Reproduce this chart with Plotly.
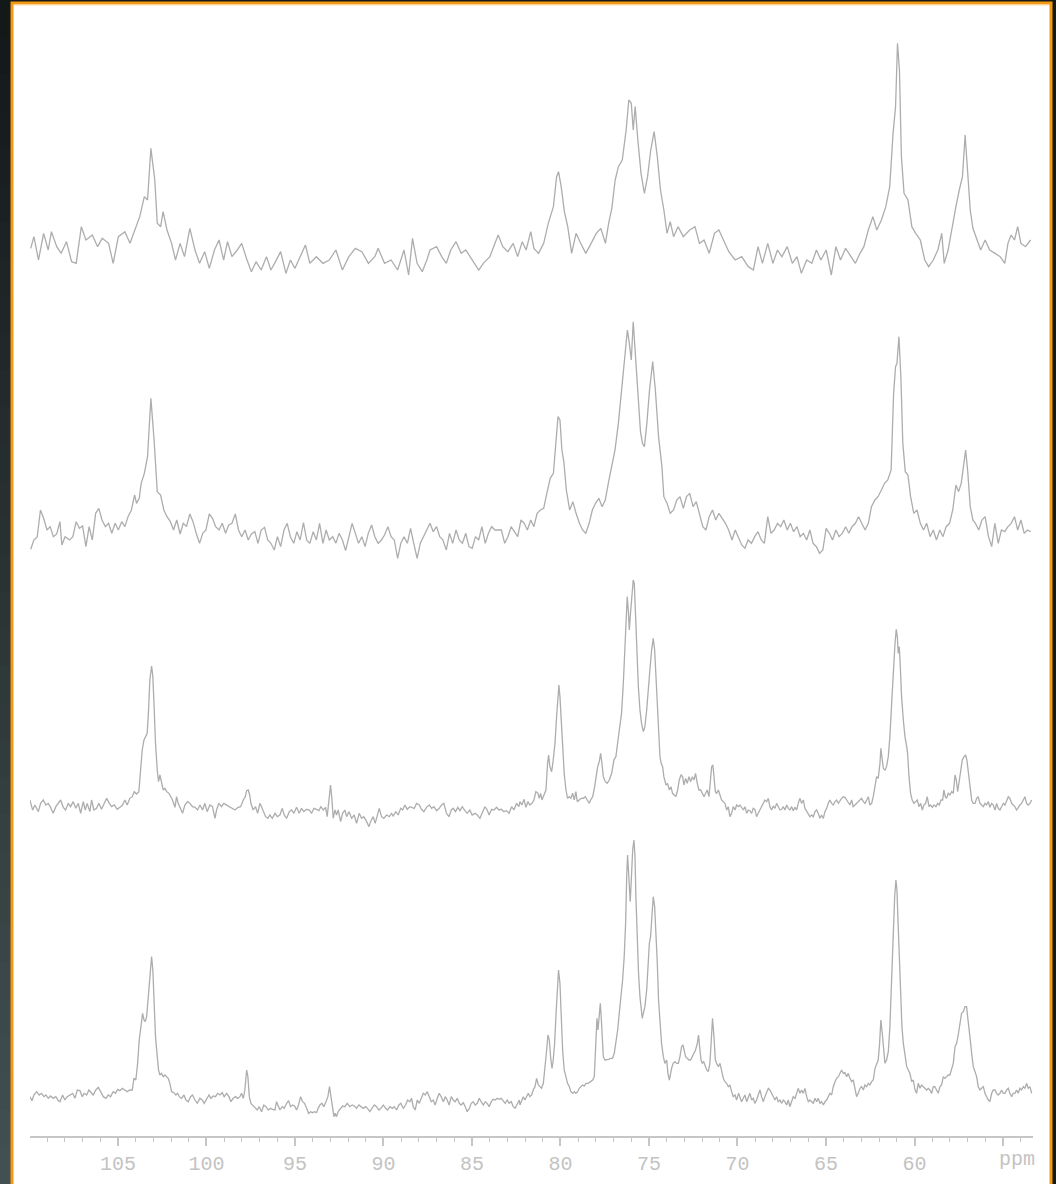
import plotly.graph_objects as go

# ---------------- data: (chemical shift in ppm, intensity in a.u.) ----------------
SPEC_A = [(109.93,95),(109.75,130),(109.49,60),(109.20,140),(108.94,90),(108.76,145),(108.46,100),(108.21,80),(107.91,115),(107.62,55),(107.36,50),(107.07,160),(106.81,120),(106.45,135),(106.15,100),(105.89,125),(105.53,110),(105.27,50),(104.98,130),(104.61,145),(104.32,110),(104.06,150),(103.77,190),(103.51,250),(103.33,240),(103.14,395),(102.92,300),(102.78,170),(102.59,160),(102.45,205),(102.23,150),(101.97,110),(101.75,60),(101.49,110),(101.24,70),(100.94,155),(100.65,90),(100.39,50),(100.10,85),(99.84,35),(99.55,90),(99.29,120),(99.03,60),(98.81,115),(98.56,70),(98.26,90),(98.01,110),(97.71,60),(97.46,25),(97.20,55),(96.91,30),(96.61,70),(96.36,30),(96.10,55),(95.81,85),(95.51,20),(95.26,60),(95.00,35),(94.71,70),(94.41,105),(94.16,50),(93.79,70),(93.42,50),(93.06,60),(92.69,90),(92.32,30),(91.96,70),(91.59,95),(91.22,85),(90.85,50),(90.49,70),(90.30,95),(89.94,50),(89.57,60),(89.20,30),(88.84,90),(88.58,15),(88.36,125),(88.10,50),(87.81,25),(87.55,60),(87.37,90),(87.00,100),(86.71,70),(86.45,50),(86.20,90),(85.90,115),(85.61,80),(85.35,90),(84.98,60),(84.62,30),(84.36,50),(83.99,70),(83.52,135),(83.26,100),(82.97,85),(82.67,110),(82.42,70),(82.16,115),(81.94,90),(81.68,145),(81.50,95),(81.24,80),(80.95,110),(80.69,170),(80.40,220),(80.22,310),(80.11,325),(79.96,280),(79.78,205),(79.59,160),(79.37,80),(79.12,140),(78.86,110),(78.57,80),(78.27,110),(77.98,140),(77.72,155),(77.46,110),(77.28,170),(77.10,215),(76.91,300),(76.73,340),(76.51,360),(76.29,450),(76.14,540),(76.00,530),(75.89,450),(75.78,520),(75.63,420),(75.45,320),(75.26,260),(75.08,310),(74.90,390),(74.71,445),(74.53,370),(74.35,270),(74.16,210),(73.98,140),(73.80,175),(73.61,130),(73.36,160),(73.06,130),(72.70,150),(72.40,160),(72.15,110),(71.89,120),(71.60,80),(71.30,140),(71.05,150),(70.79,120),(70.49,85),(70.13,60),(69.76,70),(69.39,40),(69.10,30),(68.84,100),(68.59,50),(68.29,110),(68.00,50),(67.74,90),(67.49,70),(67.19,100),(66.90,50),(66.64,70),(66.39,20),(66.09,60),(65.80,50),(65.54,90),(65.29,60),(64.99,90),(64.70,15),(64.44,100),(64.18,60),(63.89,95),(63.60,70),(63.34,50),(63.08,80),(62.86,100),(62.61,150),(62.35,190),(62.13,150),(61.87,180),(61.62,220),(61.40,280),(61.21,440),(61.07,520),(60.96,710),(60.85,630),(60.74,370),(60.59,260),(60.37,240),(60.15,160),(59.93,140),(59.67,120),(59.42,60),(59.20,40),(58.94,60),(58.68,90),(58.46,140),(58.32,50),(58.10,90),(57.84,170),(57.66,220),(57.47,270),(57.29,310),(57.14,435),(57.00,330),(56.85,210),(56.70,155),(56.48,120),(56.26,90),(56.01,120),(55.75,90),(55.45,80),(55.16,70),(54.90,50),(54.72,110),(54.54,135),(54.35,120),(54.17,160),(53.99,110),(53.73,100),(53.44,120)]

SPEC_B = [(109.93,47),(109.75,75),(109.56,85),(109.38,165),(109.20,140),(109.01,105),(108.83,115),(108.65,85),(108.46,93),(108.28,130),(108.17,60),(107.99,85),(107.73,75),(107.55,85),(107.36,130),(107.18,110),(107.00,117),(106.81,55),(106.63,115),(106.45,75),(106.26,155),(106.08,170),(105.90,135),(105.71,115),(105.53,125),(105.35,95),(105.16,125),(104.98,105),(104.79,130),(104.61,115),(104.43,145),(104.24,165),(104.06,210),(103.95,185),(103.80,200),(103.69,245),(103.51,275),(103.33,325),(103.14,500),(102.96,375),(102.78,220),(102.59,210),(102.41,165),(102.23,145),(102.04,130),(101.86,105),(101.68,135),(101.49,93),(101.31,125),(101.13,115),(100.94,153),(100.76,130),(100.58,95),(100.39,65),(100.21,95),(100.03,105),(99.84,153),(99.66,140),(99.48,115),(99.29,105),(99.11,125),(98.92,95),(98.74,120),(98.56,125),(98.37,153),(98.19,105),(98.01,85),(97.82,105),(97.64,75),(97.46,93),(97.27,100),(97.09,65),(96.91,105),(96.72,113),(96.54,75),(96.36,65),(96.17,45),(95.99,85),(95.81,55),(95.62,105),(95.44,125),(95.26,85),(95.07,65),(94.89,100),(94.71,75),(94.52,127),(94.34,75),(94.16,65),(93.97,100),(93.79,75),(93.61,125),(93.42,65),(93.24,105),(93.06,75),(92.87,85),(92.69,65),(92.51,95),(92.32,75),(92.14,43),(91.96,85),(91.77,125),(91.59,95),(91.41,65),(91.22,85),(91.04,55),(90.86,95),(90.67,120),(90.49,85),(90.30,65),(90.12,75),(89.94,90),(89.75,115),(89.57,85),(89.39,75),(89.20,20),(89.02,65),(88.84,85),(88.65,65),(88.47,110),(88.29,65),(88.10,20),(87.92,65),(87.74,85),(87.55,105),(87.37,125),(87.19,100),(87.00,115),(86.82,85),(86.64,75),(86.45,45),(86.27,95),(86.09,65),(85.90,105),(85.72,75),(85.54,65),(85.35,95),(85.17,55),(84.99,50),(84.80,85),(84.62,75),(84.44,115),(84.25,65),(84.07,95),(83.89,115),(83.70,105),(83.34,105),(83.15,65),(82.97,85),(82.79,115),(82.60,100),(82.42,85),(82.23,135),(82.05,125),(81.87,105),(81.68,135),(81.50,115),(81.32,155),(81.13,165),(80.95,170),(80.77,215),(80.58,260),(80.40,275),(80.29,345),(80.14,445),(80.03,435),(79.92,345),(79.81,310),(79.67,225),(79.48,165),(79.30,190),(79.12,155),(78.93,125),(78.75,105),(78.57,95),(78.38,125),(78.20,165),(78.02,185),(77.83,200),(77.65,175),(77.47,195),(77.28,250),(77.10,295),(76.92,345),(76.73,425),(76.55,525),(76.37,635),(76.22,705),(76.11,665),(76.00,615),(75.89,730),(75.78,635),(75.63,495),(75.48,400),(75.37,365),(75.26,355),(75.12,425),(74.97,525),(74.79,610),(74.64,525),(74.46,385),(74.27,295),(74.16,205),(73.98,185),(73.80,155),(73.61,165),(73.43,195),(73.25,205),(73.06,170),(72.88,205),(72.70,215),(72.51,175),(72.33,190),(72.15,155),(71.96,115),(71.78,105),(71.60,145),(71.41,165),(71.23,135),(71.05,155),(70.86,140),(70.68,125),(70.50,105),(70.31,75),(70.13,105),(69.95,85),(69.76,60),(69.58,50),(69.40,75),(69.21,65),(69.03,85),(68.84,100),(68.66,75),(68.48,65),(68.29,145),(68.11,95),(67.93,105),(67.74,125),(67.56,115),(67.38,135),(67.19,105),(67.01,125),(66.83,100),(66.64,115),(66.46,85),(66.28,95),(66.09,75),(65.91,105),(65.73,65),(65.54,55),(65.36,35),(65.18,45),(64.99,110),(64.81,95),(64.63,75),(64.44,105),(64.26,85),(64.08,95),(63.89,115),(63.71,95),(63.53,115),(63.34,125),(63.16,145),(62.98,125),(62.79,105),(62.61,125),(62.43,175),(62.24,195),(62.06,205),(61.87,225),(61.69,245),(61.51,255),(61.32,285),(61.18,515),(61.07,595),(60.99,605),(60.88,685),(60.77,565),(60.66,365),(60.52,280),(60.37,270),(60.22,205),(60.04,155),(59.86,165),(59.67,125),(59.49,105),(59.31,125),(59.12,85),(58.94,105),(58.76,75),(58.57,105),(58.39,85),(58.21,115),(58.02,125),(57.84,165),(57.66,240),(57.51,220),(57.36,245),(57.22,295),(57.11,345),(57.00,285),(56.85,175),(56.70,135),(56.56,125),(56.37,105),(56.19,135),(56.01,145),(55.82,85),(55.64,55),(55.46,125),(55.27,65),(55.09,105),(54.90,100),(54.72,115),(54.54,125),(54.35,145),(54.17,105),(53.99,135),(53.80,95),(53.62,105),(53.44,100)]

SPEC_C = [(109.98,90),(109.82,60),(109.69,75),(109.50,55),(109.37,80),(109.22,90),(109.07,75),(108.94,80),(108.81,68),(108.66,50),(108.51,70),(108.37,80),(108.24,90),(108.09,68),(107.96,60),(107.81,80),(107.68,70),(107.53,85),(107.38,65),(107.24,80),(107.11,50),(106.96,85),(106.85,60),(106.74,80),(106.59,55),(106.49,90),(106.36,60),(106.21,65),(106.08,80),(105.93,62),(105.79,80),(105.64,95),(105.49,80),(105.36,70),(105.21,75),(105.04,62),(104.89,68),(104.74,75),(104.61,90),(104.48,75),(104.33,95),(104.19,100),(104.08,115),(103.95,108),(103.82,115),(103.72,170),(103.63,240),(103.53,270),(103.42,285),(103.35,290),(103.27,360),(103.20,450),(103.10,492),(103.03,460),(102.95,360),(102.88,260),(102.78,180),(102.71,145),(102.63,165),(102.54,140),(102.44,120),(102.35,125),(102.25,115),(102.12,110),(102.01,100),(101.92,90),(101.78,68),(101.69,100),(101.60,80),(101.46,60),(101.35,50),(101.22,75),(101.07,85),(100.94,80),(100.79,70),(100.65,68),(100.50,60),(100.37,75),(100.22,60),(100.09,80),(99.96,55),(99.81,75),(99.66,70),(99.52,35),(99.43,60),(99.30,80),(99.15,70),(99.02,80),(98.86,75),(98.71,68),(98.56,65),(98.39,60),(98.21,68),(98.07,70),(97.92,90),(97.81,100),(97.73,118),(97.64,120),(97.56,105),(97.49,80),(97.36,60),(97.23,70),(97.11,50),(96.98,80),(96.89,70),(96.79,55),(96.66,40),(96.53,35),(96.42,45),(96.28,35),(96.13,50),(96.00,40),(95.85,45),(95.72,65),(95.61,45),(95.47,35),(95.32,55),(95.19,60),(95.06,50),(94.91,68),(94.76,50),(94.63,65),(94.50,55),(94.34,62),(94.19,60),(94.06,50),(93.93,65),(93.78,62),(93.65,58),(93.54,70),(93.40,60),(93.27,68),(93.18,40),(93.08,90),(92.99,135),(92.91,90),(92.84,35),(92.74,60),(92.65,45),(92.56,60),(92.42,25),(92.31,50),(92.18,60),(92.08,40),(91.95,55),(91.80,35),(91.65,45),(91.52,20),(91.37,50),(91.24,35),(91.11,40),(90.95,25),(90.82,10),(90.73,25),(90.58,40),(90.47,20),(90.35,40),(90.24,65),(90.11,40),(89.98,35),(89.83,45),(89.67,40),(89.54,50),(89.45,42),(89.30,55),(89.17,45),(89.03,65),(88.92,60),(88.79,75),(88.66,62),(88.51,70),(88.37,68),(88.26,65),(88.13,80),(87.98,75),(87.85,62),(87.72,55),(87.57,68),(87.41,75),(87.28,65),(87.15,70),(87.00,58),(86.85,65),(86.72,75),(86.59,80),(86.44,50),(86.30,40),(86.17,60),(86.06,65),(85.93,55),(85.80,68),(85.68,58),(85.55,70),(85.40,58),(85.27,50),(85.12,60),(84.99,45),(84.83,50),(84.70,45),(84.55,35),(84.42,50),(84.27,70),(84.14,60),(84.03,45),(83.89,62),(83.76,60),(83.61,68),(83.48,60),(83.33,62),(83.20,55),(83.05,58),(82.91,50),(82.76,70),(82.63,60),(82.48,80),(82.35,70),
          (82.29,85),(82.18,75),(82.06,92),(81.95,68),(81.84,85),(81.73,75),(81.61,80),(81.50,90),(81.39,115),(81.27,110),(81.20,95),(81.12,110),(81.05,90),(80.93,105),(80.82,120),(80.73,200),(80.67,225),(80.60,190),(80.50,175),(80.41,210),(80.31,260),(80.22,340),(80.14,400),(80.09,435),(80.03,400),(79.96,320),(79.88,240),(79.79,170),(79.69,120),(79.60,95),(79.50,100),(79.41,95),(79.31,110),(79.22,90),(79.13,115),(79.05,85),(78.94,90),(78.83,95),(78.71,95),(78.60,100),(78.49,90),(78.37,80),(78.30,90),(78.18,100),(78.07,130),(78.00,160),(77.90,190),(77.81,205),(77.73,230),(77.66,200),(77.58,160),(77.47,145),(77.36,140),(77.24,150),(77.11,170),(76.98,210),(76.87,220),(76.75,270),(76.64,310),(76.55,350),(76.45,440),(76.36,550),(76.26,650),(76.23,700),(76.17,660),(76.11,600),(76.06,640),(75.98,690),(75.89,750),(75.83,740),(75.77,660),(75.70,530),(75.60,430),(75.51,360),(75.42,320),(75.32,295),(75.23,310),(75.13,360),(75.04,410),(74.95,480),(74.85,540),(74.76,575),(74.68,540),(74.61,460),(74.53,360),(74.46,270),(74.38,220),(74.31,200),(74.23,190),(74.16,160),(74.04,135),(73.95,140),(73.85,120),(73.76,130),(73.67,110),(73.57,105),(73.48,100),(73.38,120),(73.29,150),(73.19,165),(73.10,160),(73.03,135),(72.93,155),(72.84,140),(72.74,160),(72.65,145),(72.55,160),(72.46,150),(72.37,170),(72.27,140),(72.18,120),(72.08,120),(71.99,110),(71.89,100),(71.80,110),(71.71,120),(71.61,100),(71.54,140),(71.46,190),(71.39,195),(71.33,160),(71.25,115),(71.18,110),(71.08,120),(70.99,105),(70.90,90),(70.80,85),(70.71,80),(70.61,60),(70.52,70),(70.43,40),(70.33,50),(70.24,70),(70.14,60),(70.05,75),(69.94,70),(69.86,75),(69.77,68),(69.67,60),(69.58,70),(69.48,50),(69.39,60),(69.30,58),(69.20,50),(69.11,65),(69.02,62),(68.92,40),(68.83,50),(68.73,60),(68.64,70),(68.54,80),(68.45,90),(68.35,85),(68.26,95),(68.17,70),(68.07,60),(67.98,72),(67.88,65),(67.79,80),(67.70,70),(67.60,60),(67.51,62),(67.41,70),(67.32,60),(67.22,75),(67.13,65),(67.04,60),(66.94,70),(66.85,58),(66.75,68),(66.66,60),(66.57,80),(66.47,95),(66.38,80),(66.28,90),(66.19,65),(66.09,55),(66.00,50),(65.91,40),(65.81,45),(65.72,40),(65.62,55),(65.53,60),(65.44,50),(65.34,35),(65.25,45),(65.15,35),(65.06,55),(64.96,65),(64.87,80),(64.78,90),(64.68,80),(64.59,75),(64.49,85),(64.40,90),(64.30,80),(64.21,90),(64.12,95),(64.02,100),(63.93,98),(63.83,90),(63.74,80),(63.65,75),(63.55,90),(63.46,70),(63.36,75),(63.27,80),(63.18,85),(63.08,90),(62.99,95),(62.89,85),(62.80,80),(62.70,90),(62.61,100),(62.52,75),(62.42,80),(62.33,100),(62.23,140),(62.14,160),(62.05,155),(61.95,200),(61.90,245),(61.84,220),(61.76,185),(61.67,180),(61.58,190),(61.48,220),(61.39,280),(61.29,380),(61.20,480),(61.10,560),(61.03,602),(60.97,580),(60.92,530),(60.86,550),(60.80,490),(60.73,400),(60.63,330),(60.54,280),(60.44,250),(60.39,230),(60.31,160),(60.22,110),(60.13,90),(60.03,80),(59.94,85),(59.84,90),(59.75,70),(59.65,80),(59.56,60),(59.47,75),(59.37,80),(59.28,100),(59.18,70),(59.09,75),(58.99,68),(58.90,75),(58.79,70),(58.69,80),(58.60,75),(58.50,90),(58.41,90),(58.34,120),(58.26,100),(58.19,95),(58.09,110),(58.00,105),(57.90,115),(57.81,110),(57.71,165),(57.64,150),(57.56,115),(57.49,140),(57.39,180),(57.30,210),(57.20,220),(57.11,225),(57.04,210),(56.96,170),(56.87,120),(56.77,90),(56.68,80),(56.58,80),(56.49,95),(56.40,100),(56.30,80),(56.21,75),(56.11,70),(56.02,80),(55.93,75),(55.83,85),(55.74,68),(55.64,80),(55.55,75),(55.45,60),(55.36,80),(55.27,65),(55.17,60),(55.08,70),(54.98,80),(54.89,75),(54.79,90),(54.70,100),(54.61,95),(54.51,80),(54.42,75),(54.33,70),(54.23,60),(54.14,68),(54.04,75),(53.95,80),(53.85,90),(53.76,100),(53.67,80),(53.57,75),(53.48,80),(53.38,90)]

SPEC_D = [(109.98,70),(109.86,58),(109.75,75),(109.60,85),(109.45,75),(109.32,80),(109.18,70),(109.07,75),(108.94,65),(108.81,72),(108.66,65),(108.51,70),(108.37,58),(108.28,55),(108.13,75),(108.00,60),(107.87,70),(107.72,75),(107.56,80),(107.43,65),(107.30,90),(107.15,88),(107.02,70),(106.91,80),(106.77,75),(106.64,90),(106.51,80),(106.40,75),(106.25,90),(106.11,98),(105.98,85),(105.83,70),(105.68,65),(105.55,75),(105.42,70),(105.27,85),(105.14,80),(105.02,92),(104.89,88),(104.76,95),(104.61,90),(104.48,85),(104.33,90),(104.19,90),(104.10,125),(103.99,120),(103.89,170),(103.80,240),(103.70,280),(103.61,320),(103.53,300),(103.46,295),(103.38,310),(103.29,370),(103.20,450),(103.10,490),(103.03,450),(102.95,350),(102.88,250),(102.78,190),(102.71,150),(102.63,135),(102.54,140),(102.44,130),(102.35,135),(102.25,130),(102.16,125),(102.07,110),(101.97,85),(101.84,82),(101.73,75),(101.63,80),(101.54,70),(101.41,65),(101.27,75),(101.16,60),(101.03,55),(100.90,70),(100.79,75),(100.65,60),(100.52,50),(100.37,65),(100.24,60),(100.13,50),(99.99,65),(99.86,75),(99.75,65),(99.62,72),(99.49,70),(99.37,80),(99.24,75),(99.11,82),(99.00,70),(98.86,80),(98.73,70),(98.62,55),(98.49,65),(98.36,70),(98.24,65),(98.11,70),(98.02,80),(97.92,65),(97.83,90),(97.73,150),(97.66,130),(97.58,70),(97.49,50),(97.40,45),(97.26,40),(97.13,30),(97.02,40),(96.89,25),(96.76,45),(96.64,40),(96.51,30),(96.38,35),(96.27,32),(96.13,30),(96.04,55),(95.95,40),(95.85,30),(95.72,40),(95.61,35),(95.47,50),(95.36,58),(95.25,40),(95.14,45),(95.02,42),(94.91,30),(94.80,45),(94.68,70),(94.57,55),(94.46,50),(94.34,35),(94.23,20),(94.12,25),(94.01,22),(93.89,25),(93.78,22),(93.69,35),(93.59,45),(93.48,50),(93.37,40),(93.25,55),(93.14,70),(93.05,100),(92.97,70),(92.88,30),(92.80,10),(92.73,20),(92.65,10),(92.56,25),(92.42,35),(92.31,42),(92.18,40),(92.05,50),(91.90,40),(91.77,45),(91.65,42),(91.52,35),(91.39,45),(91.28,40),(91.14,35),(91.01,40),(90.90,35),(90.77,25),(90.63,35),(90.52,45),(90.39,40),(90.26,30),(90.15,35),(90.01,45),(89.88,35),(89.77,30),(89.64,40),(89.50,35),(89.39,40),(89.26,30),(89.13,45),(89.02,50),(88.88,35),(88.75,45),(88.64,60),(88.51,55),(88.41,65),(88.32,40),(88.21,30),(88.09,60),(87.98,50),(87.87,65),(87.75,80),(87.64,75),(87.53,85),(87.41,70),(87.30,55),(87.19,60),(87.08,45),(86.96,65),(86.85,80),(86.74,70),(86.62,55),(86.51,70),(86.40,60),(86.29,45),(86.17,70),(86.06,60),(85.95,55),(85.83,65),(85.72,50),(85.61,45),(85.49,52),(85.38,40),(85.27,25),(85.15,35),(85.04,50),(84.93,55),(84.82,45),(84.70,50),(84.59,65),(84.48,55),(84.36,45),(84.25,55),(84.14,50),(84.03,40),(83.91,55),(83.80,62),(83.69,60),(83.57,65),(83.46,62),(83.35,65),(83.23,58),(83.12,50),(83.01,60),(82.90,50),(82.78,55),(82.67,40),(82.56,35),(82.44,50),(82.33,60),
          (82.29,45),(82.20,60),(82.10,70),(82.01,60),(81.91,70),(81.82,80),(81.73,70),(81.63,75),(81.54,90),(81.44,100),(81.35,125),(81.25,105),(81.16,100),(81.07,95),(80.97,110),(80.88,150),(80.78,210),(80.71,255),(80.63,240),(80.56,190),(80.48,155),(80.41,180),(80.33,230),(80.26,310),(80.18,400),(80.11,450),(80.03,410),(79.96,310),(79.88,210),(79.79,150),(79.69,130),(79.60,110),(79.50,100),(79.41,85),(79.31,80),(79.22,85),(79.13,80),(79.03,85),(78.94,95),(78.84,100),(78.75,105),(78.66,102),(78.56,110),(78.43,110),(78.30,115),(78.18,120),(78.09,130),(78.00,220),(77.94,305),(77.88,270),(77.83,300),(77.75,350),(77.70,310),(77.64,230),(77.58,190),(77.49,180),(77.39,180),(77.28,182),(77.17,185),(77.06,185),(76.96,200),(76.87,230),(76.77,270),(76.68,320),(76.58,370),(76.49,420),(76.40,490),(76.32,590),(76.26,730),(76.21,795),(76.15,740),(76.09,670),(76.06,655),(76.00,720),(75.92,810),(75.85,840),(75.79,790),(75.74,670),(75.66,540),(75.59,440),(75.51,370),(75.44,320),(75.38,305),(75.32,320),(75.23,340),(75.13,390),(75.06,450),(74.98,530),(74.91,550),(74.83,620),(74.76,670),(74.68,640),(74.61,570),(74.53,470),(74.46,360),(74.38,280),(74.29,230),(74.19,190),(74.10,170),(74.00,180),(73.93,140),(73.85,120),(73.78,145),(73.70,160),(73.63,170),(73.53,175),(73.44,170),(73.34,170),(73.25,190),(73.16,220),(73.08,225),(73.03,210),(72.93,190),(72.84,185),(72.74,180),(72.65,180),(72.55,190),(72.46,200),(72.37,210),(72.27,230),(72.20,255),(72.14,220),(72.06,180),(71.99,170),(71.91,175),(71.84,165),(71.74,150),(71.65,145),(71.56,170),(71.48,240),(71.41,305),(71.33,250),(71.25,180),(71.18,170),(71.08,160),(70.99,170),(70.90,145),(70.80,125),(70.71,115),(70.61,110),(70.52,100),(70.43,105),(70.33,85),(70.24,70),(70.14,75),(70.05,60),(69.94,80),(69.86,70),(69.77,55),(69.67,65),(69.58,75),(69.48,55),(69.39,65),(69.30,80),(69.20,60),(69.11,65),(69.02,50),(68.92,60),(68.83,75),(68.73,90),(68.64,70),(68.54,55),(68.45,70),(68.35,85),(68.26,95),(68.17,90),(68.07,80),(67.98,70),(67.88,60),(67.79,70),(67.70,55),(67.60,60),(67.51,50),(67.41,60),(67.32,55),(67.22,45),(67.13,60),(67.04,40),(66.94,55),(66.85,70),(66.75,65),(66.66,80),(66.57,95),(66.47,80),(66.38,90),(66.28,80),(66.19,95),(66.09,70),(66.00,55),(65.91,60),(65.81,55),(65.72,50),(65.62,65),(65.53,55),(65.44,65),(65.34,50),(65.25,55),(65.15,45),(65.06,55),(64.96,60),(64.87,70),(64.78,80),(64.68,75),(64.59,100),(64.49,115),(64.40,125),(64.30,130),(64.21,140),(64.12,150),(64.02,140),(63.93,142),(63.83,130),(63.74,140),(63.65,125),(63.55,115),(63.46,120),(63.36,90),(63.27,70),(63.18,80),(63.08,95),(62.99,100),(62.89,90),(62.80,105),(62.70,100),(62.61,110),(62.52,105),(62.42,115),(62.33,120),(62.23,155),(62.14,165),(62.05,180),(61.97,230),(61.90,300),(61.82,260),(61.75,210),(61.67,170),(61.58,180),(61.48,205),(61.39,280),(61.29,420),(61.20,570),(61.12,670),(61.05,720),(60.99,690),(60.94,610),(60.86,470),(60.78,370),(60.71,280),(60.63,230),(60.54,190),(60.44,160),(60.35,150),(60.26,140),(60.16,115),(60.07,120),(59.97,90),(59.88,80),(59.79,110),(59.69,95),(59.60,105),(59.50,100),(59.41,95),(59.31,90),(59.22,95),(59.13,90),(59.03,80),(58.94,100),(58.85,100),(58.75,90),(58.66,80),(58.56,100),(58.47,105),(58.37,130),(58.28,125),(58.19,130),(58.09,135),(58.00,135),(57.90,150),(57.81,170),(57.71,220),(57.62,230),(57.53,255),(57.43,295),(57.34,320),(57.24,325),(57.15,340),(57.06,340),(56.96,300),(56.87,250),(56.77,200),(56.68,160),(56.58,145),(56.49,130),(56.40,100),(56.30,90),(56.21,95),(56.11,100),(56.02,80),(55.93,70),(55.83,60),(55.74,55),(55.64,80),(55.55,90),(55.45,90),(55.36,80),(55.27,75),(55.17,80),(55.08,90),(54.98,80),(54.89,80),(54.79,90),(54.70,95),(54.61,80),(54.51,70),(54.42,80),(54.33,80),(54.23,90),(54.14,80),(54.04,95),(53.95,90),(53.85,100),(53.76,95),(53.67,110),(53.57,95),(53.48,100),(53.38,80)]

SPECTRA = [SPEC_A, SPEC_B, SPEC_C, SPEC_D]
MAJOR_TICKS = [105, 100, 95, 90, 85, 80, 75, 70, 65, 60, 55]
MAJOR_LABELS = ["105", "100", "95", "90", "85", "80", "75", "70", "65", "60", ""]
UNIT_LABEL = "ppm"

# ---------------- layout constants (pixels) ----------------
W, H = 1056, 1184
PPM_RANGE = [109.97, 53.305]
X_DOMAIN_PX = (30, 1033)
PANELS_PX = [(280, 20), (565, 300), (830, 570), (1120, 832)]  # (bottom, top) of each stacked panel
UNITS_PER_PX = 3
AXIS_Y_PX = 1137
LINE_COLOR = "#adadad"
TEXT_COLOR = "#c3c3c3"
AXIS_COLOR = "#c6c6c6"
FONT = "Liberation Mono"


def fx(px):
    return px / W


def fy(py):
    return 1 - py / H


fig = go.Figure()

for i, spec in enumerate(SPECTRA):
    xs = [p for p, _ in spec]
    ys = [v for _, v in spec]
    yname = "y" if i == 0 else f"y{i + 1}"
    fig.add_trace(go.Scatter(
        x=xs, y=ys, mode="lines", xaxis="x", yaxis=yname,
        line=dict(color=LINE_COLOR, width=1.3),
        showlegend=False, hoverinfo="skip",
    ))
    bottom, top = PANELS_PX[i]
    key = "yaxis" if i == 0 else f"yaxis{i + 1}"
    fig.update_layout({key: dict(
        domain=[fy(bottom), fy(top)],
        range=[0, (bottom - top) * UNITS_PER_PX],
        visible=False, anchor="x", fixedrange=True,
    )})

fig.update_layout(
    xaxis=dict(
        domain=[fx(X_DOMAIN_PX[0]), fx(X_DOMAIN_PX[1])],
        range=PPM_RANGE,
        anchor="free", position=fy(AXIS_Y_PX),
        showgrid=False, zeroline=False,
        showline=True, linecolor=AXIS_COLOR, linewidth=1.5,
        ticks="outside", ticklen=8, tickwidth=1.5, tickcolor=AXIS_COLOR,
        tickmode="array", tickvals=MAJOR_TICKS, ticktext=MAJOR_LABELS,
        tickfont=dict(family=FONT, size=20, color=TEXT_COLOR),
        minor=dict(tickmode="linear", tick0=0, dtick=1, ticks="outside",
                   ticklen=4, tickwidth=1.2, tickcolor=AXIS_COLOR, showgrid=False),
        fixedrange=True,
    ),
)

# background decoration: dark frame with vertical gradient on the left, orange border, white panel
shapes = []
n_bands = 32
c0 = (0x12, 0x17, 0x18)
c1 = (0x43, 0x51, 0x52)
for k in range(n_bands):
    t = (k + 0.5) / n_bands
    col = "rgb(%d,%d,%d)" % tuple(round(a + (b - a) * t) for a, b in zip(c0, c1))
    shapes.append(dict(type="rect", xref="paper", yref="paper",
                       x0=0, x1=fx(11), y0=fy(H * (k + 1) / n_bands), y1=fy(H * k / n_bands),
                       line=dict(width=0), fillcolor=col, layer="below"))
shapes.append(dict(type="rect", xref="paper", yref="paper",
                   x0=fx(12), x1=fx(1051), y0=fy(1200), y1=fy(3),
                   line=dict(color="#f39a12", width=3), fillcolor="white", layer="below"))
shapes.append(dict(type="line", xref="paper", yref="paper",
                   x0=fx(14), x1=fx(1049), y0=fy(5), y1=fy(5),
                   line=dict(color="#ffd9a3", width=1), layer="below"))

fig.update_layout(
    width=W, height=H, autosize=False,
    margin=dict(l=0, r=0, t=0, b=0),
    paper_bgcolor="#151a1b",
    plot_bgcolor="rgba(0,0,0,0)",
    shapes=shapes,
    annotations=[dict(
        text=UNIT_LABEL, xref="paper", yref="paper",
        x=fx(997), y=fy(1159), xanchor="left", yanchor="middle",
        showarrow=False, font=dict(family=FONT, size=20, color=TEXT_COLOR),
    )],
)

fig.write_html("out.html")
